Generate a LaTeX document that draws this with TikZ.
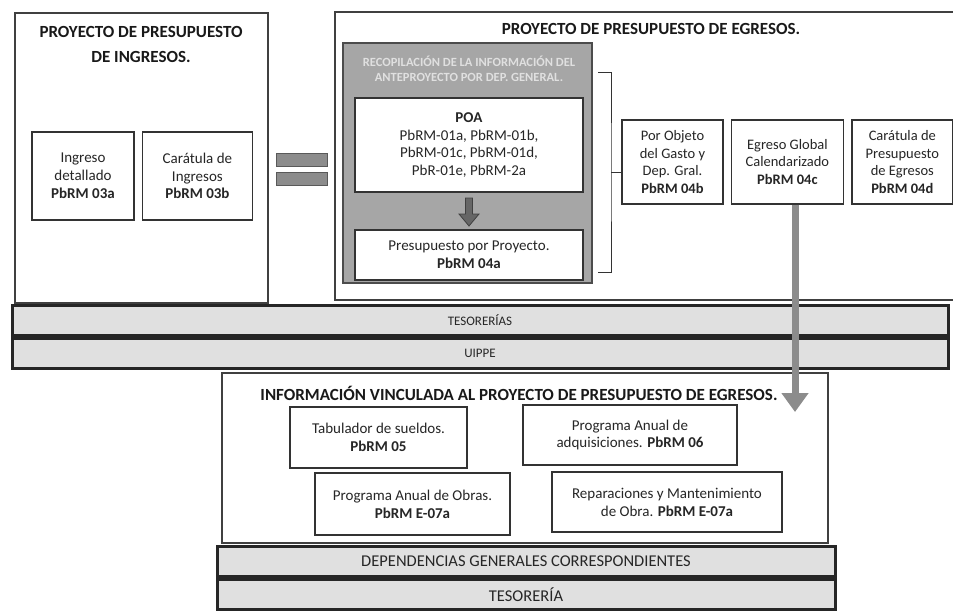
\documentclass[tikz,border=0pt]{standalone}
\usepackage{fontspec}
\setmainfont{Carlito}
\usetikzlibrary{shapes, arrows.meta, positioning}

\begin{document}
\begin{tikzpicture}[x=1pt, y=-1pt, >=Triangle]

\tikzstyle{bigbox} = [draw=black!75, line width=1.1pt, fill=white]
\tikzstyle{block} = [draw=black!80, line width=1.4pt, fill=white, align=center, text=black!85, font=\fontsize{15}{17.8}\selectfont]
\tikzstyle{title} = [align=center, text=black!90, font=\fontsize{17}{25}\selectfont\bfseries]
\tikzstyle{bar} = [draw=black!85, line width=3pt, fill=black!12, text=black!85, minimum height=30pt]
\tikzstyle{eqbar} = [draw=black!65, line width=1pt, fill=black!45, minimum width=51pt, minimum height=13pt]

\useasboundingbox (0,0) rectangle (953,614);

%Creating Ingresos Blocks
\node [bigbox, minimum width=253pt, minimum height=290pt] (ingbox) at (141.5,158) {};
\node [title] (ingtitle) at (141,44) {PROYECTO DE PRESUPUESTO\\DE INGRESOS.};
\node [block, minimum width=102pt, minimum height=88pt] (ingdet) at (83,176) {Ingreso\\detallado\\\textbf{PbRM 03a}};
\node [block, minimum width=110pt, minimum height=88pt, right=7pt of ingdet] (ingcar) {Carátula de\\Ingresos\\\textbf{PbRM 03b}};

%Equals Sign
\node [eqbar] (eqtop) at (301.5,160) {};
\node [eqbar, below=5pt of eqtop] (eqbot) {};

%Creating Egresos Blocks
\node [bigbox, minimum width=621pt, minimum height=288pt] (egrbox) at (645.5,156) {};
\node [title] (egrtitle) at (651,29) {PROYECTO DE PRESUPUESTO DE EGRESOS.};
\node [draw=black!70, line width=1.5pt, fill=black!35, minimum width=249pt, minimum height=240pt] (recbox) at (467.5,163) {};
\node [align=center, text=white!88!black, font=\fontsize{12.5}{15}\selectfont\bfseries] (rectitle) at (469,69) {RECOPILACIÓN DE LA INFORMACIÓN DEL\\ANTEPROYECTO POR DEP. GENERAL.};
\node [block, line width=1.8pt, minimum width=228pt, minimum height=94pt] (poabox) at (469,145) {\textbf{POA}\\PbRM-01a, PbRM-01b,\\PbRM-01c, PbRM-01d,\\PbR-01e, PbRM-2a};
\node [block, line width=1.8pt, minimum width=228pt, minimum height=50pt] (presbox) at (469,255) {Presupuesto por Proyecto.\\\textbf{PbRM 04a}};
\path (poabox.south) -- coordinate (poamid) (presbox.north);
\draw [fill=black!60, draw=black!75, line width=0.8pt] (poamid) ++(-3.5pt,13pt) -- ++(7pt,0pt) -- ++(0pt,-16pt) -- ++(6.5pt,0pt) -- ++(-10pt,-12pt) -- ++(-10pt,12pt) -- ++(6.5pt,0pt) -- cycle;

\node [block, minimum width=101pt, minimum height=84pt, font=\fontsize{14.5}{17.5}\selectfont] (box04b) at (672.5,162) {Por Objeto\\del Gasto y\\Dep. Gral.\\\textbf{PbRM 04b}};
\node [block, minimum width=112pt, minimum height=84pt, font=\fontsize{14.5}{17.5}\selectfont, right=7pt of box04b] (box04c) {Egreso Global\\Calendarizado\\\textbf{PbRM 04c}};
\node [block, minimum width=101pt, minimum height=84pt, font=\fontsize{14.5}{17.5}\selectfont, right=7pt of box04c] (box04d) {Carátula de\\Presupuesto\\de Egresos\\\textbf{PbRM 04d}};

%Brace
\coordinate (braceT) at (598,72);
\coordinate (braceM) at (611,172);
\coordinate (braceB) at (598,272);
\draw [black!80, line width=0.9pt] (braceT) -| (braceM) |- (braceB);
\draw [black!80, line width=0.9pt] (braceM) -- (braceM -| box04b.west);

%Creating Bars
\node [bar, minimum width=936pt, font=\fontsize{13}{15}\selectfont] (tesbar) at (480,320.5) {TESORERÍAS};
\node [bar, minimum width=936pt, font=\fontsize{13}{15}\selectfont, below=0pt of tesbar] (uippebar) {UIPPE};

%Creating Vinculada Blocks
\node [bigbox, minimum width=606pt, minimum height=170pt] (vincbox) at (525,458) {};
\node [title] (vinctitle) at (519,393) {INFORMACIÓN VINCULADA AL PROYECTO DE PRESUPUESTO DE EGRESOS.};
\node [block, minimum width=177pt, minimum height=61pt] (tabbox) at (378.5,437.5) {Tabulador de sueldos.\\\textbf{PbRM 05}};
\node [block, minimum width=214pt, minimum height=60pt] (adqbox) at (630,435) {Programa Anual de\\adquisiciones. \textbf{PbRM 06}};
\node [block, minimum width=195pt, minimum height=62pt] (obrbox) at (412.5,504) {Programa Anual de Obras.\\\textbf{PbRM E-07a}};
\node [block, minimum width=230pt, minimum height=60pt] (repbox) at (667,502) {Reparaciones y Mantenimiento\\de Obra. \textbf{PbRM E-07a}};

\node [bar, minimum width=618pt, font=\fontsize{16.5}{18}\selectfont] (depbar) at (526,561.5) {DEPENDENCIAS GENERALES CORRESPONDIENTES};
\node [bar, minimum width=618pt, font=\fontsize{16.5}{18}\selectfont, below=0pt of depbar] (tesobar) {TESORERÍA};

%Conecting Blocks
\coordinate (arrowend) at (795,412);
\draw [->, line width=7pt, draw=black!45, -{Triangle[width=26pt,length=19pt]}] (box04c.south -| arrowend) -- (arrowend);
\end{tikzpicture}
\end{document}
